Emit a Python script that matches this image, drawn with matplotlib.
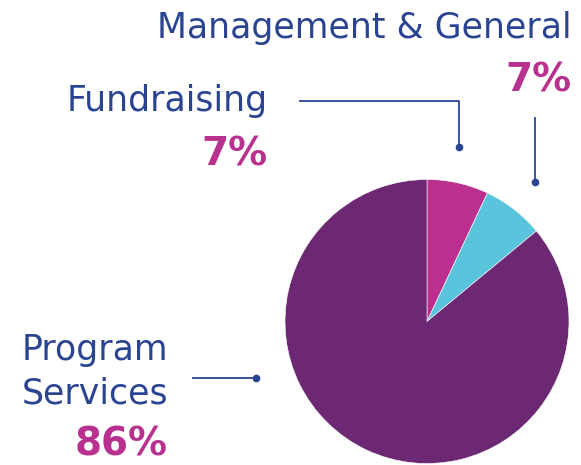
import matplotlib
matplotlib.use("Agg")
import matplotlib.pyplot as plt

# ── Data ──────────────────────────────────────────────────────────────
categories = ["Fundraising", "Management & General", "Program Services"]
shares = [7, 7, 86]
pct_labels = ["7%", "7%", "86%"]
slice_colors = ["#BB2F8F", "#5BC4DD", "#6D2874"]

NAVY = "#2B4492"
PINK = "#B9318F"
H = 465  # figure height in px, used to flip pixel y to data y

fig = plt.figure(figsize=(5.81, 4.65), dpi=100)
ax = fig.add_axes([0, 0, 1, 1])

ax.pie(shares, colors=slice_colors, startangle=90, counterclock=False,
       center=(427, H - 321.5), radius=142,
       wedgeprops=dict(edgecolor="white", linewidth=0.4))
ax.set_xlim(0, 581)
ax.set_ylim(0, H)
ax.set_aspect("equal")
ax.axis("off")

# ── Labels ────────────────────────────────────────────────────────────
reg = dict(color=NAVY, fontsize=25, family="DejaVu Sans", va="baseline", ha="right")
bold = dict(color=PINK, fontsize=28, family="DejaVu Sans", fontweight="bold",
            va="baseline", ha="right")

ax.text(572, H - 38, categories[1], **reg)
ax.text(572, H - 92, pct_labels[1], **bold)

ax.text(268, H - 111, categories[0], **reg)
ax.text(268, H - 166, pct_labels[0], **bold)

ax.text(168, H - 360, "Program", **reg)
ax.text(168, H - 404, "Services", **reg)
ax.text(168, H - 456, pct_labels[2], **bold)

# ── Leader lines ──────────────────────────────────────────────────────
line = dict(color=NAVY, linewidth=1.3)
dot = dict(color=NAVY, marker="o", markersize=4.5, linestyle="none")

ax.plot([300, 459, 459], [H - 101.5, H - 101.5, H - 147.5], **line)
ax.plot([459], [H - 147.5], **dot)

ax.plot([535, 535], [H - 118, H - 182.5], **line)
ax.plot([535], [H - 182.5], **dot)

ax.plot([193, 256], [H - 378, H - 378], **line)
ax.plot([256], [H - 378], **dot)

fig.savefig("out.png", dpi=100, facecolor="white")
